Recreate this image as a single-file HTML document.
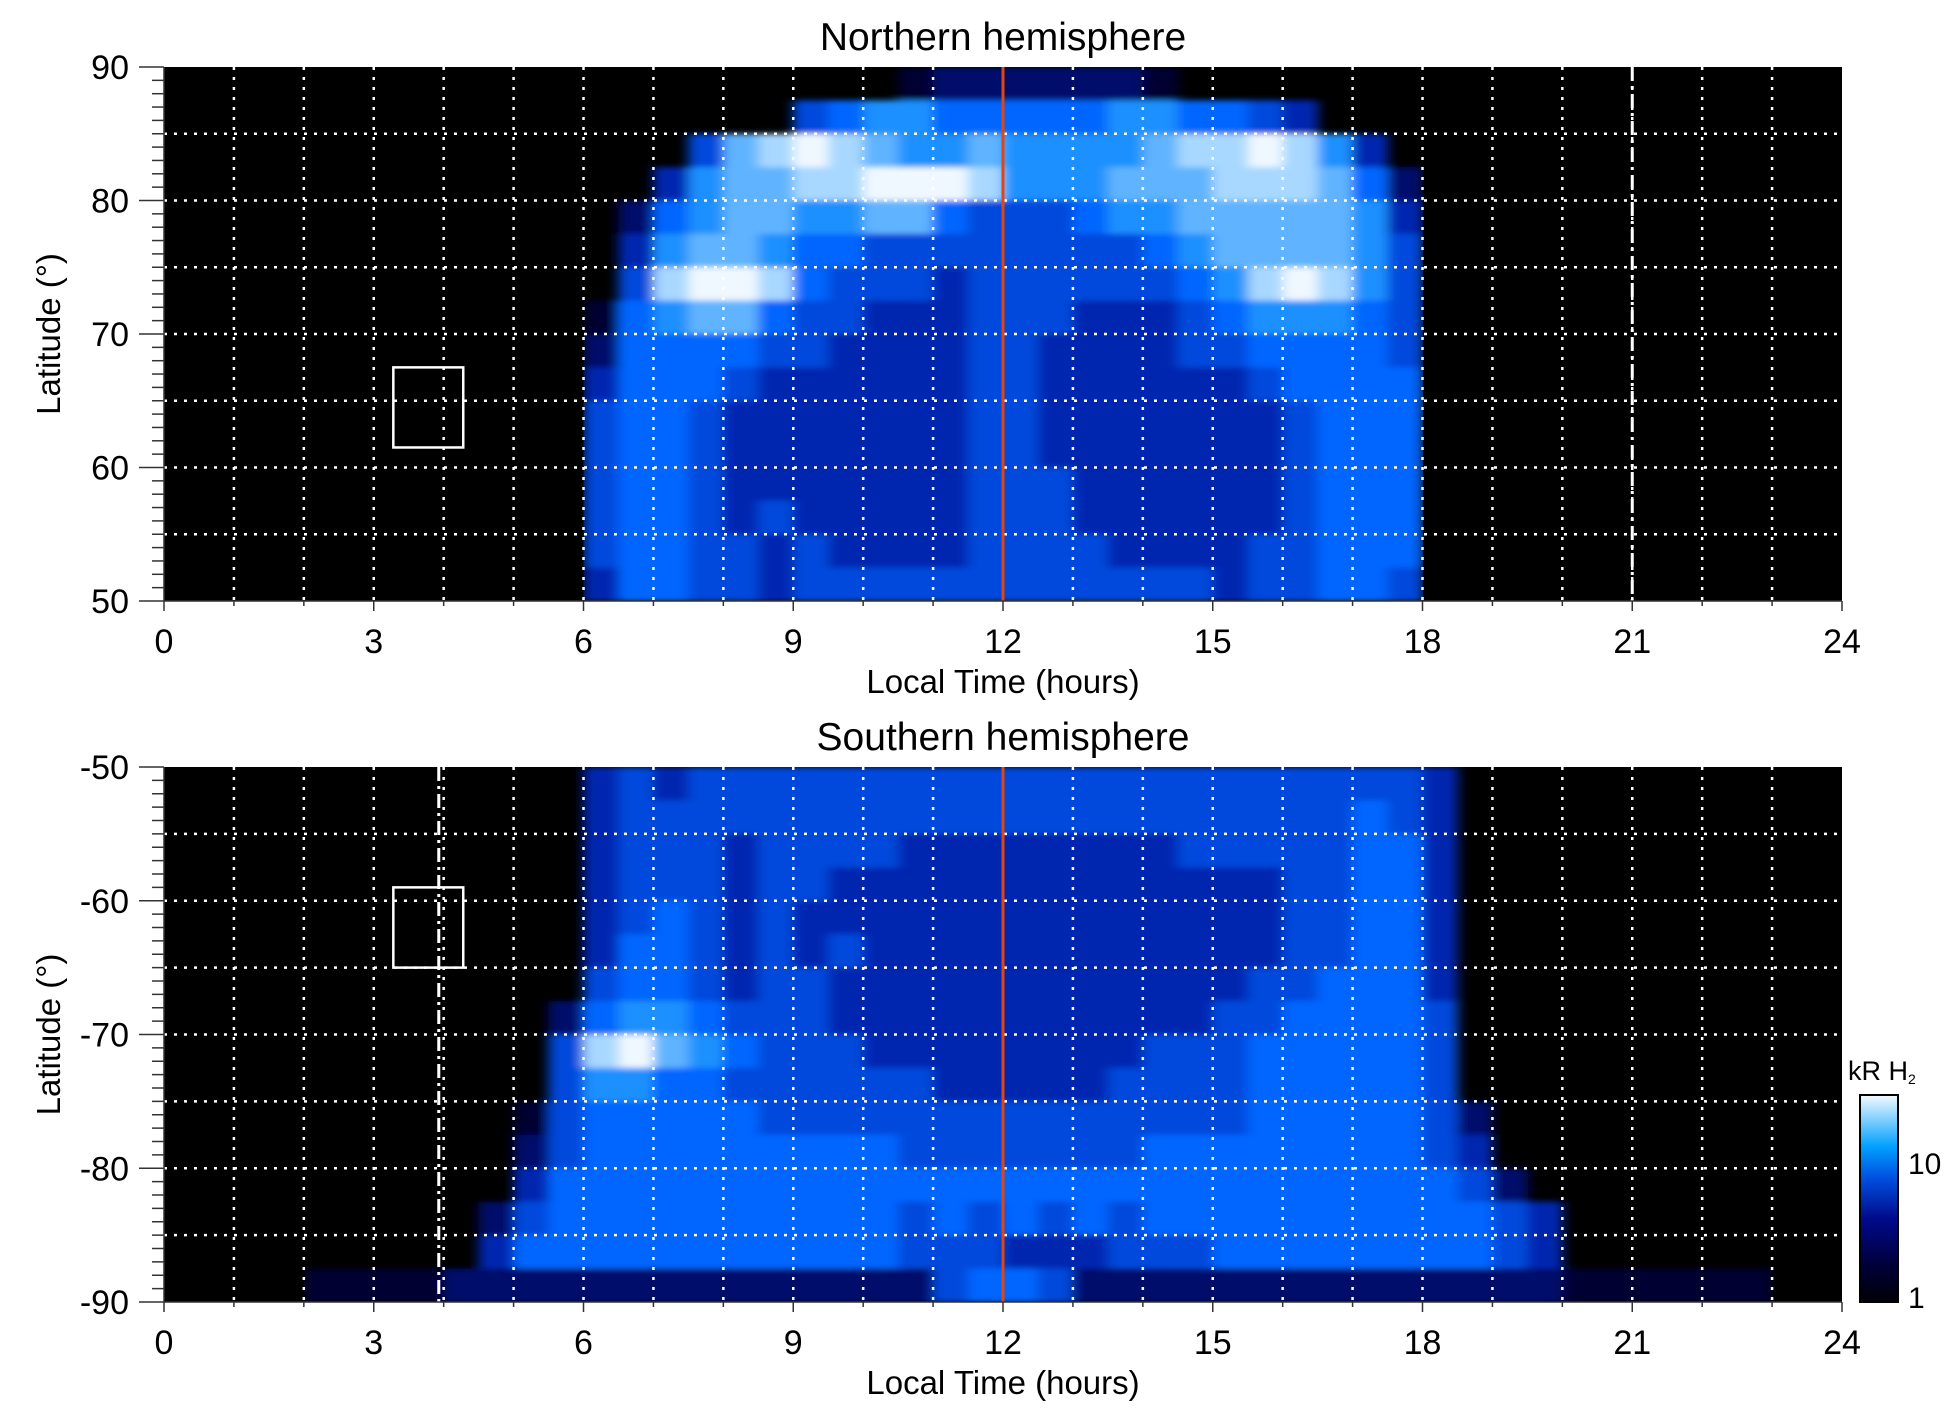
<!DOCTYPE html>
<html><head><meta charset="utf-8">
<style>
html,body{margin:0;padding:0;background:#fff;}
svg{display:block;font-family:"Liberation Sans",sans-serif;}
</style></head>
<body>
<svg id="chart" width="1950" height="1423" viewBox="0 0 1950 1423" xmlns="http://www.w3.org/2000/svg">
<defs>
<filter id="soft" x="0" y="0" width="1" height="1"><feGaussianBlur stdDeviation="6 3"/></filter>
<clipPath id="clipN"><rect x="164" y="67" width="1678" height="534"/></clipPath>
<clipPath id="clipS"><rect x="164" y="767" width="1678" height="535"/></clipPath>
<linearGradient id="cbar" x1="0" y1="1" x2="0" y2="0">
<stop offset="0" stop-color="#000005"/><stop offset="0.2" stop-color="#000040"/>
<stop offset="0.4" stop-color="#000a8a"/><stop offset="0.6" stop-color="#0050e0"/>
<stop offset="0.75" stop-color="#00a0ff"/><stop offset="1" stop-color="#f4faff"/>
</linearGradient>
</defs>
<g id="root"></g>
</svg>
<script>
// Local-time ticks and latitude ticks
const xTickLabels = ["0","3","6","9","12","15","18","21","24"];
const northLatTicks = [90,80,70,60,50];
const southLatTicks = [-50,-60,-70,-80,-90];
// Intensity grids: 16 latitude rows (2.5 deg each, top to bottom) x 48 local-time columns (0.5 h each), level 0-9
const northRows = [
"000000000000"+"000000000122222210000000"+"000000000000",
"000000000000"+"000000456655555665543000"+"000000000000",
"000000000000"+"000478987667666678898630"+"000000000000",
"000000000000"+"003677889998666777888752"+"000000000000",
"000000000000"+"025677667754445667777763"+"000000000000",
"000000000000"+"036776554444444456777764"+"000000000000",
"000000000000"+"048998544434444445689864"+"000000000000",
"000000000000"+"156775443334443334566654"+"000000000000",
"000000000000"+"255554433334433334455554"+"000000000000",
"000000000000"+"355543333334433333345555"+"000000000000",
"000000000000"+"455433333334433333334555"+"000000000000",
"000000000000"+"455433333334433333334555"+"000000000000",
"000000000000"+"455433333334443333334555"+"000000000000",
"000000000000"+"455434333334443333334555"+"000000000000",
"000000000000"+"455443433334444333344555"+"000000000000",
"000000000000"+"355443444444444444344554"+"000000000000"
];
const southRows = [
"000000000000"+"343444444444444444444444"+"300000000000",
"000000000000"+"344444444444444444444454"+"300000000000",
"000000000000"+"344434444333333334444455"+"300000000000",
"000000000000"+"344434433333333333334455"+"300000000000",
"000000000000"+"345434333333333333334455"+"300000000000",
"000000000000"+"355434343333333333334455"+"300000000000",
"000000000000"+"455434433333333333344555"+"300000000000",
"000000000002"+"566544433333333333445555"+"400000000000",
"000000000004"+"897654443333333344455555"+"400000000000",
"000000000004"+"665544444433333444455555"+"400000000000",
"000000000014"+"555554444444444444455555"+"420000000000",
"000000000024"+"555555555444444455555555"+"430000000000",
"000000000035"+"555555555555555555555555"+"542000000000",
"000000000245"+"555555555454545455555555"+"554300000000",
"000000000355"+"555555555444333444555555"+"554300000000",
"000011112222"+"222222222245542222222222"+"222211111100"
];
const palette = ["#000000","#000030","#000a6a","#0028b0","#0048dc","#0066ff","#1e90ff","#60b4ff","#a8d8ff","#f0f8ff"];
// Overlay features
const northBox = {lt0:3.28, lt1:4.28, lat0:67.5, lat1:61.5};
const southBox = {lt0:3.28, lt1:4.28, lat0:-59, lat1:-65};
const northDashLT = 21;
const southDashLT = 3.93;
const noonLT = 12;

const NS="http://www.w3.org/2000/svg";
const root=document.getElementById('root');
const X0=164, X1=1842;
function xs(lt){return X0+(X1-X0)*lt/24;}
function mk(tag,attrs,parent){const e=document.createElementNS(NS,tag);for(const k in attrs)e.setAttribute(k,attrs[k]);(parent||root).appendChild(e);return e;}

function panel(cfg){
  const {top,bot,latTop,latBot,rows,title,clip,box,dashLT,dashRange,key,ticks}=cfg;
  const ys=lat=>top+(bot-top)*(latTop-lat)/(latTop-latBot);
  const bg=mk('rect',{x:X0,y:top,width:X1-X0,height:bot-top,fill:'#000'});
  
  
  const g=mk('g',{'clip-path':'url(#'+clip+')'});
  
  
  const gi=mk('g',{filter:'url(#soft)'},g);
  const nR=rows.length, step=(latTop-latBot)/nR;
  rows.forEach((row,r)=>{
    for(let c=0;c<row.length;c++){
      const v=+row[c]; if(!v) continue;
      const lt0=c*24/row.length, lt1=(c+1)*24/row.length;
      const la0=latTop-(r*step), la1=latTop-((r+1)*step);
      const cell=mk('rect',{x:xs(lt0),y:ys(la0),width:xs(lt1)-xs(lt0)+0.5,height:ys(la1)-ys(la0)+0.5,fill:palette[v]},gi);
      
      
    }
  });
  const grid=mk('g',{stroke:'#fff','stroke-width':2.5,'stroke-dasharray':'3 7'});
  
  
  for(let h=1;h<24;h++) mk('line',{x1:xs(h),x2:xs(h),y1:top,y2:bot},grid);
  const sgn=latTop>latBot?-1:1;
  for(let la=latTop+sgn*5;sgn<0?la>latBot:la<latBot;la+=sgn*5) mk('line',{x1:X0,x2:X1,y1:ys(la),y2:ys(la)},grid);
  const dl=mk('line',{x1:xs(dashLT),x2:xs(dashLT),y1:ys(dashRange[0]),y2:ys(dashRange[1]),stroke:'#fff','stroke-width':3,'stroke-dasharray':'14 5 3 5'});
  
  
  const bx=mk('rect',{x:xs(box.lt0),y:ys(box.lat0),width:xs(box.lt1)-xs(box.lt0),height:ys(box.lat1)-ys(box.lat0),fill:'none',stroke:'#fff','stroke-width':2.5});
  
  
  const nl=mk('line',{x1:xs(noonLT),x2:xs(noonLT),y1:top,y2:bot,stroke:'#e2450f','stroke-width':3});
  
  
  const ax=mk('g',{stroke:'#333','stroke-width':1.5});
  
  
  mk('line',{x1:X0,x2:X0,y1:top,y2:bot},ax);
  mk('line',{x1:X0,x2:X1,y1:bot,y2:bot},ax);
  const lo=Math.min(latTop,latBot),hi=Math.max(latTop,latBot);
  for(let la=lo;la<=hi;la++){
    const major=la%10===0;
    mk('line',{x1:X0-(major?25:12),x2:X0,y1:ys(la),y2:ys(la)},ax);
  }
  for(let h=0;h<=24;h++) mk('line',{x1:xs(h),x2:xs(h),y1:bot,y2:bot+(h%3===0?10:5)},ax);
  ticks.forEach(la=>{
    const t=mk('text',{x:129,y:ys(la)+12,'text-anchor':'end','font-size':34,fill:'#000'});
    t.textContent=String(la);
    
    
  });
  xTickLabels.forEach((s,i)=>{
    const t=mk('text',{x:xs(i*3),y:bot+52,'text-anchor':'middle','font-size':34,fill:'#000'});
    t.textContent=s;
    
    
  });
  const xt=mk('text',{x:(X0+X1)/2,y:bot+92,'text-anchor':'middle','font-size':33,fill:'#000'});
  xt.textContent='Local Time (hours)';
  
  
  const yc=(top+bot)/2;
  const yt=mk('text',{x:60,y:yc,'text-anchor':'middle','font-size':33,fill:'#000',transform:'rotate(-90 60 '+yc+')'});
  yt.textContent='Latitude (°)';
  
  
  const tt=mk('text',{x:(X0+X1)/2,y:top-17,'text-anchor':'middle','font-size':39,fill:'#000'});
  tt.textContent=title;
  
  
}
panel({top:67,bot:601,latTop:90,latBot:50,rows:northRows,title:'Northern hemisphere',clip:'clipN',box:northBox,dashLT:northDashLT,dashRange:[90,50],key:'north',ticks:northLatTicks});
panel({top:767,bot:1302,latTop:-50,latBot:-90,rows:southRows,title:'Southern hemisphere',clip:'clipS',box:southBox,dashLT:southDashLT,dashRange:[-50,-90],key:'south',ticks:southLatTicks});

const cb=mk('rect',{x:1860,y:1095,width:38,height:207,fill:'url(#cbar)',stroke:'#000','stroke-width':2});


const cbt=mk('text',{x:1848,y:1080,'font-size':27,fill:'#000'});
cbt.textContent='kR H';
const sub=mk('tspan',{'font-size':14,dy:4},cbt);sub.textContent='2';


const cbLabels=[["10",1174],["1",1308]];
cbLabels.forEach(([s,y])=>{
  const t=mk('text',{x:1908,y:y,'font-size':30,fill:'#000'});
  t.textContent=s;
  
  
});
</script>
</body></html>
